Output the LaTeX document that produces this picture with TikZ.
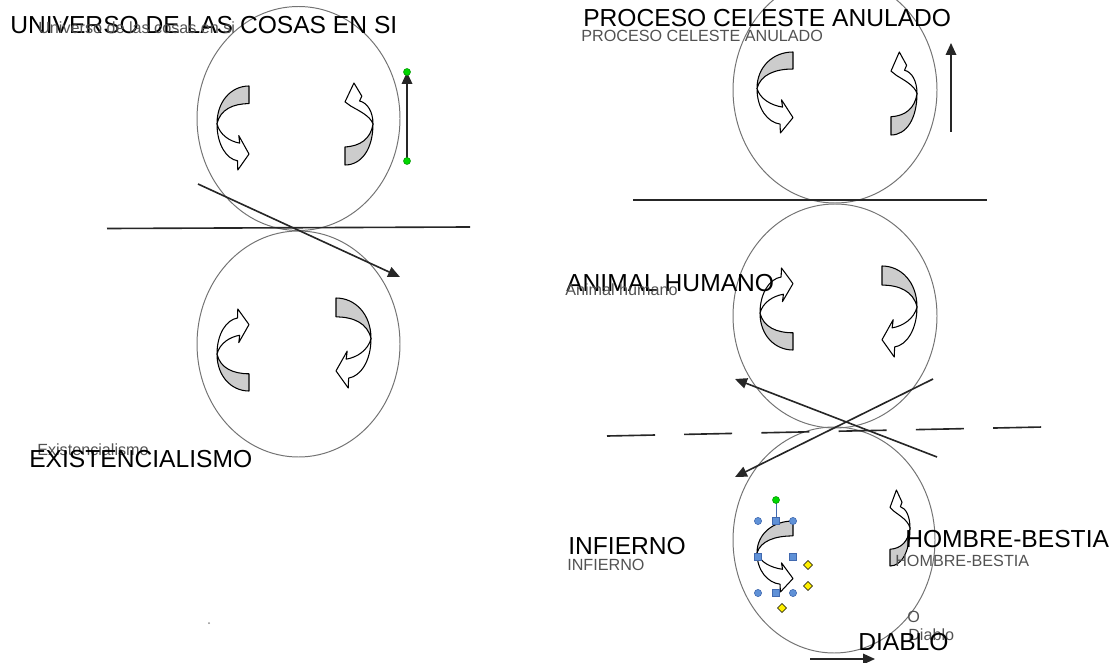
\documentclass[tikz,border=0pt]{standalone}
\usepackage{fontspec}
\setmainfont{Liberation Sans}
\usetikzlibrary{arrows.meta}

\definecolor{bandgray}{RGB}{204,204,204}
\definecolor{selblue}{RGB}{95,145,215}
\definecolor{selblueline}{RGB}{65,105,175}
\definecolor{selgreen}{RGB}{0,215,0}
\definecolor{selyellow}{RGB}{255,240,0}

\begin{document}
\begin{tikzpicture}[x=0.025cm,y=-0.025cm,every text node part/.style={align=left},
  etiq/.style={anchor=base west,inner sep=0pt,font=\fontsize{17.5pt}{20pt}\selectfont},
  nota/.style={anchor=base west,inner sep=0pt,text=black!68,font=\fontsize{11.5pt}{13pt}\selectfont},
  circulo/.style={draw=black!55,line width=0.7pt},
  raya/.style={draw=black!85,line width=1.15pt},
  flecha/.style={raya,-{Triangle[length=8.5pt,width=7.5pt]}},
  tirador/.style={fill=selblue,draw=selblueline,line width=0.4pt},
  giro/.style={draw=black,line width=0.75pt,line join=round},
  % curved arrow, grey back on top, head bottom right
  cvA/.pic={
    \filldraw[giro,fill=bandgray] (0.5,-0.5) .. controls (-0.05,-0.5) and (-0.5,-0.32) .. (-0.5,-0.05)
      .. controls (-0.4,-0.22) and (0,-0.29) .. (0.5,-0.29) -- cycle;
    \filldraw[giro,fill=white] (-0.5,-0.05) .. controls (-0.5,0.2) and (-0.2,0.37) .. (0.14,0.39)
      -- (0.15,0.5) -- (0.5,0.31) -- (0.18,0.09) -- (0.21,0.18)
      .. controls (-0.1,0.16) and (-0.42,0.08) .. (-0.5,-0.05) -- cycle;
  },
  % curved arrow, grey back at bottom, head on top
  cvB/.pic={
    \filldraw[giro,fill=bandgray] (-0.5,0.5) .. controls (0.1,0.5) and (0.5,0.3) .. (0.5,0)
      .. controls (0.42,0.18) and (0.05,0.27) .. (-0.5,0.28) -- cycle;
    \filldraw[giro,fill=white] (0.5,0) .. controls (0.5,-0.15) and (0.3,-0.26) .. (0.02,-0.28)
      -- (0.1,-0.34) -- (-0.18,-0.5) -- (-0.5,-0.27) -- (-0.3,-0.22)
      .. controls (0,-0.16) and (0.4,-0.1) .. (0.5,0) -- cycle;
  }]
  \useasboundingbox (0,0) rectangle (1117,663);

  % circles
  \coordinate (cosas) at (298.5,118.5);
  \coordinate (exist) at (298.5,344);
  \coordinate (celeste) at (835,90);
  \coordinate (animal) at (835,316);
  \coordinate (infierno) at (834,540);
  \draw[circulo] (cosas) ellipse [x radius=101.5,y radius=112];
  \draw[circulo] (exist) ellipse [x radius=101.5,y radius=113];
  \draw[circulo] (celeste) ellipse [x radius=102,y radius=113];
  \draw[circulo] (animal) ellipse [x radius=102,y radius=112];
  \draw[circulo] (infierno) ellipse [x radius=101,y radius=113];

  % lines
  \coordinate (l1a) at (107,228.5);
  \coordinate (l1b) at (470,227);
  \coordinate (l2a) at (633,200);
  \coordinate (l2b) at (987,200);
  \coordinate (l3a) at (607,436);
  \coordinate (l3b) at (1043,427);
  \draw[raya] (l1a) -- (l1b);
  \draw[raya] (l2a) -- (l2b);
  \draw[raya,dash pattern=on 1.2cm off 0.73cm] (l3a) -- (l3b);

  % straight arrows
  \coordinate (d1a) at (198,184);
  \coordinate (d1b) at (400,277);
  \coordinate (v1a) at (407,161);
  \coordinate (v1b) at (407,72);
  \coordinate (v2a) at (951,132);
  \coordinate (v2b) at (951,43);
  \coordinate (x1a) at (937,457);
  \coordinate (x1b) at (735,379);
  \coordinate (x2a) at (933,379);
  \coordinate (x2b) at (735,477);
  \coordinate (h1a) at (810,659);
  \coordinate (h1b) at (875,659);
  \draw[flecha] (d1a) -- (d1b);
  \draw[flecha] (v1a) -- (v1b);
  \draw[flecha] (v2a) -- (v2b);
  \draw[flecha] (x1a) -- (x1b);
  \draw[flecha] (x2a) -- (x2b);
  \draw[flecha] (h1a) -- (h1b);
  \foreach \p in {v1a,v1b}
    \filldraw[fill=selgreen,draw=black!40!green,line width=0.4pt] (\p) circle [radius=3.5];

  % curved arrows
  \pic[xscale=32,yscale=84] at (233,128) {cvA};
  \pic[xscale=28,yscale=82] at (359,124) {cvB};
  \pic[xscale=32,yscale=-82] at (233,350) {cvA};
  \pic[xscale=-35,yscale=90] at (353.5,343) {cvA};
  \pic[xscale=36,yscale=81] at (775,92.5) {cvA};
  \pic[xscale=26,yscale=83] at (904,93.5) {cvB};
  \pic[xscale=33,yscale=-82] at (776.5,309) {cvA};
  \pic[xscale=-35,yscale=91] at (899.5,311.5) {cvA};
  \pic[xscale=36,yscale=71] at (775,556.5) {cvA};
  \pic[xscale=20,yscale=76] at (900,528) {cvB};

  % selection handles
  \draw[selblueline,line width=0.5pt] (776,500) -- (776,521);
  \filldraw[fill=selgreen,draw=black!40!green,line width=0.4pt] (776,500) circle [radius=3.5];
  \foreach \x/\y in {758/521,793/521,758/593,793/593}
    \filldraw[tirador] (\x,\y) circle [radius=3.6];
  \foreach \x/\y in {776/521,776/593,758/557,793/557}
    \filldraw[tirador] (\x-3.5,\y-3.5) rectangle (\x+3.5,\y+3.5);
  \foreach \x/\y in {808/565,808/586,782/608}
    \filldraw[fill=selyellow,draw=black,line width=0.4pt] (\x,\y-4.5) -- (\x+4.5,\y) -- (\x,\y+4.5) -- (\x-4.5,\y) -- cycle;
  \fill[black!45] (209,623) circle [radius=1];

  % labels
  \node[etiq] (universo) at (10,34) {UNIVERSO DE LAS COSAS EN SI};
  \node[nota] (universo2) at (38,34) {Universo de las cosas en si};
  \node[etiq] (proceso) at (583,27) {PROCESO CELESTE ANULADO};
  \node[nota] (proceso2) at (581,42) {PROCESO CELESTE ANULADO};
  \node[etiq] (humano) at (566,291) {ANIMAL HUMANO};
  \node[nota] (humano2) at (565,295) {Animal humano};
  \node[nota] (existencia2) at (37,455) {Existencialismo};
  \node[etiq] (existencia) at (29,467) {EXISTENCIALISMO};
  \node[etiq] (infiernotxt) at (568,554) {INFIERNO};
  \node[nota] (infiernotxt2) at (567,570) {INFIERNO};
  \node[etiq] (bestia) at (905,547) {HOMBRE-BESTIA};
  \node[nota] (bestia2) at (895,566) {HOMBRE-BESTIA};
  \node[nota] (letrao) at (907,622) {O};
  \node[nota] (diablo2) at (908,640) {Diablo};
  \node[etiq] (diablo) at (858,650) {DIABLO};
\end{tikzpicture}
\end{document}
